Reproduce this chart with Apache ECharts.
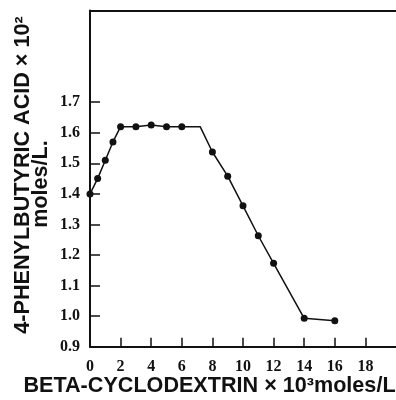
<!DOCTYPE html>
<html>
<head>
<meta charset="utf-8">
<script src="https://cdn.jsdelivr.net/npm/echarts@6/dist/echarts.min.js"></script>
<style>html,body{margin:0;padding:0;background:#fff;}#c{width:396px;height:400px;}</style>
</head>
<body>
<div id="c"></div>
<script>
// Data
var cdConc = [0, 0.5, 1, 1.5, 2, 3, 4, 5, 6, 7.2, 8, 9, 10, 11, 12, 14, 16];
var acidConc = [1.40, 1.45, 1.51, 1.57, 1.62, 1.62, 1.625, 1.62, 1.62, 1.62, 1.537, 1.458, 1.361, 1.263, 1.173, 0.993, 0.985];
var hasMarker = [true, true, true, true, true, true, true, true, true, false, true, true, true, true, true, true, true];
var xTicks = [0, 2, 4, 6, 8, 10, 12, 14, 16, 18];
var yTicks = [0.9, 1.0, 1.1, 1.2, 1.3, 1.4, 1.5, 1.6, 1.7];
var yTitle1 = '4-PHENYLBUTYRIC ACID \u00d7 10\u00b2';
var yTitle2 = 'moles/L.';
var xTitle = 'BETA-CYCLODEXTRIN \u00d7 10\u00b3moles/L';

var seriesData = cdConc.map(function (x, i) {
  var d = { value: [x, acidConc[i]] };
  if (!hasMarker[i]) d.symbol = 'none';
  return d;
});

var chart = echarts.init(document.getElementById('c'), null, { renderer: 'canvas' });
var tickFont = { fontFamily: 'Liberation Serif', fontWeight: 'bold', fontSize: 16, color: '#111' };
var titleFont = 'bold 21.6px "Liberation Sans"';
chart.setOption({
  animation: false,
  backgroundColor: '#fff',
  grid: { left: 90, top: 10.5, width: 309, height: 336.2, containLabel: false },
  xAxis: [{
    type: 'value', min: 0, max: 20, interval: 2,
    axisLine: { show: true, lineStyle: { color: '#111', width: 2 } },
    axisTick: { show: true, inside: true, length: 9, lineStyle: { color: '#111', width: 1.5 }, customValues: xTicks },
    axisLabel: Object.assign({ margin: 12, customValues: xTicks }, tickFont),
    splitLine: { show: false }
  }, {
    type: 'value', min: 0, max: 20, position: 'top',
    axisLine: { show: true, lineStyle: { color: '#111', width: 2 } },
    axisTick: { show: false }, axisLabel: { show: false }, splitLine: { show: false }
  }],
  yAxis: {
    type: 'value', min: 0.9, max: 2.0, interval: 0.1,
    axisLine: { show: true, lineStyle: { color: '#111', width: 2 } },
    axisTick: { show: true, inside: true, length: 10, lineStyle: { color: '#111', width: 1.5 }, customValues: yTicks },
    axisLabel: Object.assign({ margin: 10, customValues: yTicks, formatter: function (v) { return v.toFixed(1); } }, tickFont),
    splitLine: { show: false }
  },
  series: [{
    type: 'line',
    data: seriesData,
    symbol: 'circle',
    symbolSize: 7,
    clip: false,
    itemStyle: { color: '#111' },
    lineStyle: { color: '#111', width: 1.5 }
  }],
  graphic: [
    { type: 'text', x: 23.5, y: 175, rotation: Math.PI / 2,
      style: { text: yTitle1, font: titleFont, fill: '#111', align: 'center', verticalAlign: 'middle' } },
    { type: 'text', x: 41, y: 184, rotation: Math.PI / 2,
      style: { text: yTitle2, font: titleFont, fill: '#111', align: 'center', verticalAlign: 'middle' } },
    { type: 'text', x: 209.5, y: 386.5,
      style: { text: xTitle, font: titleFont, fill: '#111', align: 'center', verticalAlign: 'middle' } }
  ]
});
</script>
</body>
</html>
